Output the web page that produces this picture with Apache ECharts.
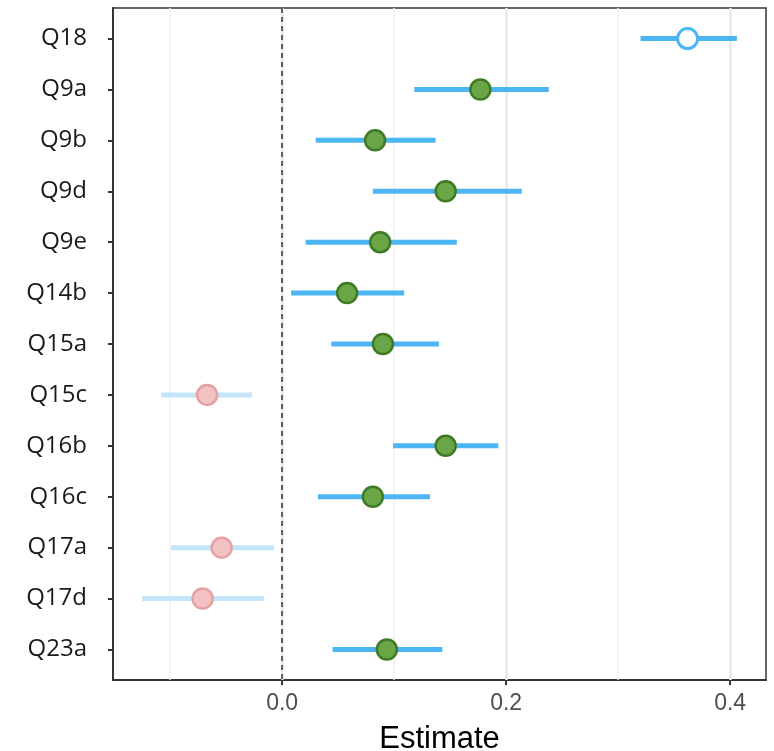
<!DOCTYPE html>
<html>
<head>
<meta charset="utf-8">
<script src="https://cdn.jsdelivr.net/npm/echarts@6/dist/echarts.min.js"></script>
<style>html,body{margin:0;padding:0;background:#fff;}#c{width:774px;height:751px;}</style>
</head>
<body>
<div id="c"></div>
<script>
const categories = ['Q18','Q9a','Q9b','Q9d','Q9e','Q14b','Q15a','Q15c','Q16b','Q16c','Q17a','Q17d','Q23a'];
const estimate = [0.362,0.177,0.083,0.146,0.0875,0.058,0.090,-0.067,0.146,0.081,-0.054,-0.071,0.0935];
const lower    = [0.320,0.118,0.030,0.081,0.021,0.008,0.044,-0.108,0.099,0.032,-0.099,-0.125,0.045];
const upper    = [0.406,0.238,0.137,0.214,0.156,0.109,0.140,-0.027,0.193,0.132,-0.007,-0.016,0.143];
const group    = ['open','sig','sig','sig','sig','sig','sig','neg','sig','sig','neg','neg','sig'];
const xTicks = [0, 0.2, 0.4];
const xMinor = [-0.1, 0.1, 0.3];
const xMin = -0.151, xMax = 0.432;

const styles = {
  open: {line:'#4cb6f5', fill:'#ffffff', border:'#4cb6f5'},
  sig:  {line:'#4cb6f5', fill:'#6aa645', border:'#3f7a27'},
  neg:  {line:'#c4e5fb', fill:'#f3c3c3', border:'#e6a2a2'}
};

const rows = categories.map((c,i)=>i+1);
const barData = categories.map((c,i)=>[lower[i], upper[i], i+1, i]);
const pointData = categories.map((c,i)=>{
  const s = styles[group[i]];
  return {value:[estimate[i], i+1], itemStyle:{color:s.fill, borderColor:s.border, borderWidth: group[i]==='open'?3:2.5, opacity:1}};
});

const chart = echarts.init(document.getElementById('c'), null, {renderer:'canvas'});
chart.setOption({
  animation:false,
  backgroundColor:'#ffffff',
  grid:{left:113, right:8, top:8, bottom:71, show:true, borderColor:'#333333', borderWidth:1.5, backgroundColor:'#ffffff', containLabel:false, outerBoundsMode:'none'},
  xAxis:{
    type:'value', min:xMin, max:xMax,
    name:'Estimate', nameLocation:'middle', nameGap:44,
    nameTextStyle:{fontFamily:'Liberation Sans', fontSize:31, color:'#000000'},
    axisLine:{show:true, onZero:false, lineStyle:{color:'#333333', width:2}},
    axisTick:{show:true, customValues:xTicks, length:5, lineStyle:{color:'#333333', width:2}},
    axisLabel:{customValues:xTicks, formatter:v=>v.toFixed(1), fontFamily:'Liberation Sans', fontSize:23, color:'#4d4d4d', margin:12},
    splitLine:{show:false}
  },
  yAxis:{
    type:'value', inverse:true, min:0.4, max:13.6,
    axisLine:{show:true, onZero:false, lineStyle:{color:'#333333', width:2}},
    axisTick:{show:true, customValues:rows, length:5, lineStyle:{color:'#333333', width:2}},
    axisLabel:{customValues:rows, formatter:v=>categories[Math.round(v)-1]||'', fontFamily:'Open Sans', fontSize:24, color:'#1a1a1a', margin:26},
    splitLine:{show:false}
  },
  series:[
    {
      type:'line', data:[], silent:true, z:1,
      markLine:{
        silent:true, symbol:'none', label:{show:false}, z:1,
        data:[
          ...xMinor.map(v=>({xAxis:v, lineStyle:{color:'#f2f2f2', width:1.5, type:'solid'}})),
          ...xTicks.map(v=>({xAxis:v, lineStyle:{color:'#e8e8e8', width:2.5, type:'solid'}}))
        ]
      }
    },
    {
      type:'line', data:[], silent:true, z:2,
      markLine:{
        silent:true, symbol:'none', label:{show:false}, z:2,
        data:[{xAxis:0, lineStyle:{color:'#333333', width:1.5, type:[5,4]}}]
      }
    },
    {
      type:'custom', z:4, silent:true,
      data:barData,
      encode:{x:[0,1], y:2},
      renderItem:(params, api)=>{
        const i = api.value(3);
        const p1 = api.coord([api.value(0), api.value(2)]);
        const p2 = api.coord([api.value(1), api.value(2)]);
        return {type:'line', shape:{x1:p1[0], y1:p1[1], x2:p2[0], y2:p2[1]},
          style:{stroke:styles[group[i]].line, lineWidth:5}};
      }
    },
    {
      type:'scatter', z:5, symbol:'circle', symbolSize:20, silent:true,
      data:pointData
    }
  ]
});
</script>
</body>
</html>
